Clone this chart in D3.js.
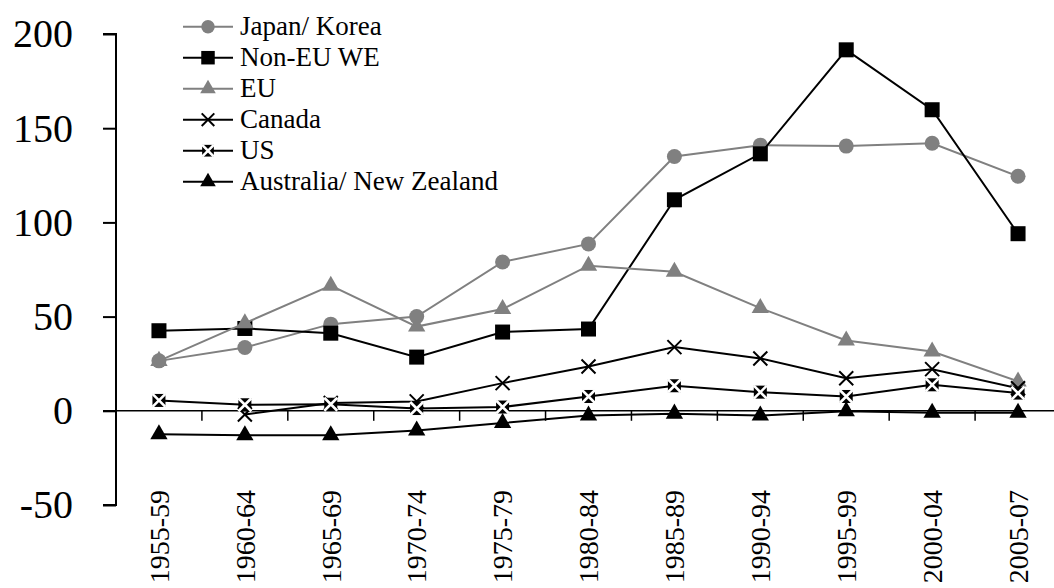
<!DOCTYPE html>
<html><head><meta charset="utf-8">
<script src="https://cdn.jsdelivr.net/npm/d3@7"></script>
<style>
svg text { font-family: "Liberation Serif", "Times New Roman", Tinos, serif !important; }
</style>
</head><body style="margin:0">
<svg id="c" width="1054" height="588" style="display:block"></svg>
<script>
const categories = ["1955-59","1960-64","1965-69","1970-74","1975-79","1980-84","1985-89","1990-94","1995-99","2000-04","2005-07"];
const japanKorea = [26.5, 33.6, 46, 50, 79, 88.6, 135, 141, 140.5, 142, 124.5];
const nonEuWe   = [42.5, 43.7, 41.2, 28.5, 41.8, 43.4, 112, 136.4, 191.6, 159.8, 94];
const eu        = [26.5, 46.5, 66.4, 44.7, 54, 77, 73.8, 54.5, 37.3, 31.5, 15.6];
const canada    = [null, -2, 4.1, 5, 14.7, 23.5, 33.8, 27.8, 17.3, 22.1, 12];
const us        = [5.5, 3.2, 3.5, 1.2, 2, 7.6, 13.3, 9.9, 7.6, 13.8, 9.4];
const ausNz     = [-12.5, -13, -13, -10.5, -6.5, -2.5, -1.5, -2.5, -0.2, -1, -1];
const yTicks = [-50, 0, 50, 100, 150, 200];
const seriesNames = ["Japan/ Korea","Non-EU WE","EU","Canada","US","Australia/ New Zealand"];

const GRAY = "#808080";
const FONT = "Liberation Serif";
const series = [
  {name: seriesNames[0], values: japanKorea, color: GRAY, marker: "circle"},
  {name: seriesNames[1], values: nonEuWe, color: "#000", marker: "square"},
  {name: seriesNames[2], values: eu, color: GRAY, marker: "triangle"},
  {name: seriesNames[3], values: canada, color: "#000", marker: "x"},
  {name: seriesNames[4], values: us, color: "#000", marker: "xsquare"},
  {name: seriesNames[5], values: ausNz, color: "#000", marker: "triangle"}
];

const svg = d3.select("#c").attr("font-family", FONT);
const x = d3.scalePoint().domain(categories).range([116, 1061]).padding(0.5);
const y = d3.scaleLinear().domain([-50, 200]).range([505, 34]);
const step = x.step();

// Y axis
const yAxis = d3.axisLeft(y).tickValues(yTicks).tickSize(13).tickPadding(30).tickFormat(d => String(d));
const gy = svg.append("g").attr("transform", "translate(116,0)").call(yAxis);
gy.attr("font-family", FONT).attr("font-size", 40);
gy.select(".domain").attr("stroke", "#000").attr("stroke-width", 2).attr("d", `M-13,${y(200)}H0V${y(-50)}H-13`);
gy.selectAll(".tick line").attr("stroke", "#000").attr("stroke-width", 2);
gy.selectAll(".tick text").attr("font-family", FONT).attr("font-size", 40).attr("fill", "#000");

// Zero line (category axis)
svg.append("line").attr("x1", 103).attr("x2", 1054).attr("y1", y(0)).attr("y2", y(0))
  .attr("stroke", "#000").attr("stroke-width", 1.5);
// category boundary ticks
svg.append("g").selectAll("line").data(categories.slice(1)).join("line")
  .attr("x1", d => x(d) - step / 2).attr("x2", d => x(d) - step / 2)
  .attr("y1", y(0)).attr("y2", y(0) + 10)
  .attr("stroke", "#000").attr("stroke-width", 1.5);

// category labels
svg.append("g").selectAll("text").data(categories).join("text")
  .attr("transform", d => `translate(${x(d)},490) rotate(-90)`)
  .attr("text-anchor", "end").attr("dy", "0.35em")
  .attr("font-family", FONT).attr("font-size", 28).attr("fill", "#000")
  .text(d => d);

function drawMarker(g, type, color, s) {
  if (type === "circle") {
    g.append("circle").attr("r", 7.5 * s).attr("fill", color);
  } else if (type === "square") {
    const h = 7.5 * s;
    g.append("rect").attr("x", -h).attr("y", -h).attr("width", 2 * h).attr("height", 2 * h).attr("fill", color);
  } else if (type === "triangle") {
    g.append("path").attr("d", d3.symbol(d3.symbolTriangle, 130 * s * s)()).attr("fill", color);
  } else if (type === "x") {
    const h = 7 * s;
    g.append("path").attr("d", `M${-h},${-h}L${h},${h}M${-h},${h}L${h},${-h}`)
      .attr("stroke", color).attr("stroke-width", 2).attr("fill", "none");
  } else if (type === "xsquare") {
    const h = 6.5 * s;
    g.append("rect").attr("x", -h).attr("y", -h).attr("width", 2 * h).attr("height", 2 * h).attr("fill", color);
    g.append("path").attr("d", `M${-h},${-h}L${h},${h}M${-h},${h}L${h},${-h}`)
      .attr("stroke", "#fff").attr("stroke-width", 2.6).attr("fill", "none");
  }
}

const line = d3.line().defined(d => d.v !== null).x(d => x(d.c)).y(d => y(d.v));
series.forEach(s => {
  const pts = categories.map((c, i) => ({c, v: s.values[i]}));
  const g = svg.append("g");
  g.append("path").datum(pts).attr("d", line).attr("fill", "none")
    .attr("stroke", s.color).attr("stroke-width", 2);
  pts.filter(p => p.v !== null).forEach(p => {
    const mg = g.append("g").attr("transform", `translate(${x(p.c)},${y(p.v)})`);
    drawMarker(mg, s.marker, s.color, 1);
  });
});

// Legend
const lg = svg.append("g");
series.forEach((s, i) => {
  const cy = 26.7 + i * 31;
  const row = lg.append("g").attr("transform", `translate(0,${cy})`);
  row.append("line").attr("x1", 183).attr("x2", 233).attr("y1", 0).attr("y2", 0)
    .attr("stroke", s.color).attr("stroke-width", 2);
  const mg = row.append("g").attr("transform", "translate(208,0)");
  drawMarker(mg, s.marker, s.color, 0.9);
  row.append("text").attr("x", 240).attr("y", 0).attr("dy", "0.32em")
    .attr("font-family", FONT).attr("font-size", 27).attr("fill", "#000").text(s.name);
});
</script>
</body></html>
